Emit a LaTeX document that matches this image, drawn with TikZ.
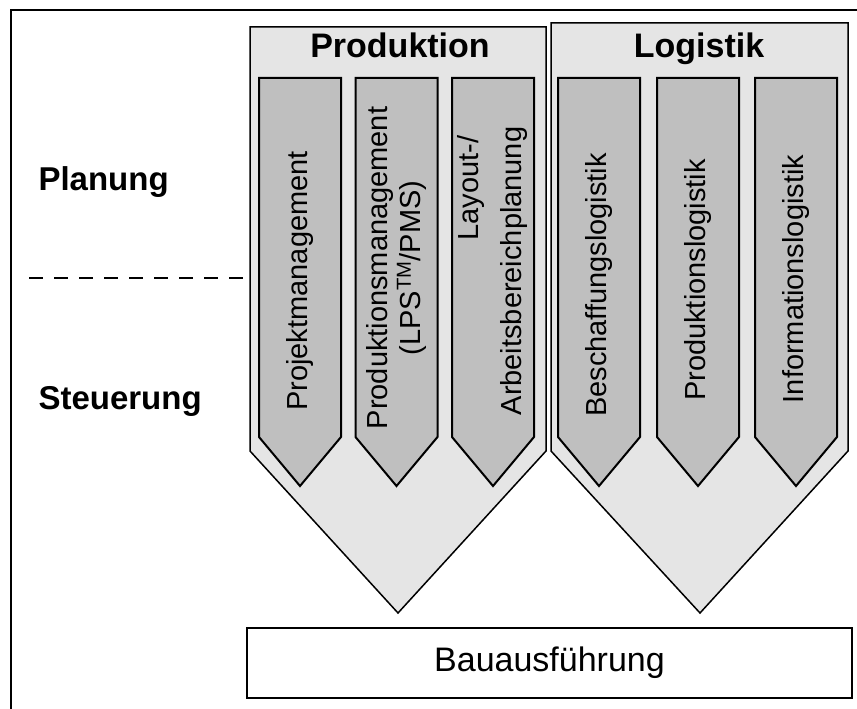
\documentclass[tikz,border=0pt]{standalone}
\usepackage{fontspec}
\setmainfont{Liberation Sans}
\usepackage{tikz}
\usetikzlibrary{positioning,calc}

\begin{document}
\begin{tikzpicture}[x=1pt, y=-1pt,
    bereich/.style={draw=black, line width=1.5pt, fill=black!10},
    saeule/.style={draw=black, line width=2pt, fill=black!25},
    saeultext/.style={rotate=90, font=\fontsize{29}{33}\selectfont, align=center},
    kopf/.style={font=\fontsize{34}{40}\selectfont\bfseries, anchor=base},
    ebene/.style={font=\fontsize{33}{40}\selectfont\bfseries, anchor=base west}]
    \useasboundingbox (0,0) rectangle (857,709);

    \draw[line width=2pt] (10.5,709) -- (10.5,10.5) -- (857,10.5);

    % Planung / Steuerung
    \node[ebene] (plan) at (35,190) {Planung};
    \node[ebene] (steu) at (35,409) {Steuerung};
    \draw[line width=2pt, dash pattern=on 14pt off 11pt] (29,278) -- (245,278);

    % Produktion und Logistik
    \draw[bereich] (250,27) -- (546,27) -- (546,451) -- (398,613) -- (250,451) -- cycle;
    \draw[bereich] (551,23) -- (848,23) -- (848,451) -- (700,613) -- (551,451) -- cycle;
    \node[kopf] (prod) at (400,58) {Produktion};
    \node[kopf] (log) at (699,58) {Logistik};

    % Saeulen
    \foreach \x in {259,355.5,452,558,657,755}
        \draw[saeule] (\x,78) -- (\x+82,78) -- (\x+82,437) -- (\x+41,486) -- (\x,437) -- cycle;

    \node[saeultext] (projekt) at (300,281) {Projektmanagement};
    \node[saeultext] (prodman) at (396,268) {Produktionsmanagement\\(LPS\textsuperscript{TM}/PMS)};
    \node[saeultext] (layout) at (471,188) {Layout-/};
    \node[saeultext] (arbeit) at (514,271) {Arbeitsbereichplanung};
    \node[saeultext] (beschaff) at (599,285) {Beschaffungslogistik};
    \node[saeultext] (prodlog) at (698,280) {Produktionslogistik};
    \node[saeultext] (infolog) at (796,279) {Informationslogistik};

    \node[draw, line width=2pt, minimum width=605pt, minimum height=70pt,
        font=\fontsize{34}{40}\selectfont] (bau) at (549.5,663) {Bauausführung};
\end{tikzpicture}
\end{document}
